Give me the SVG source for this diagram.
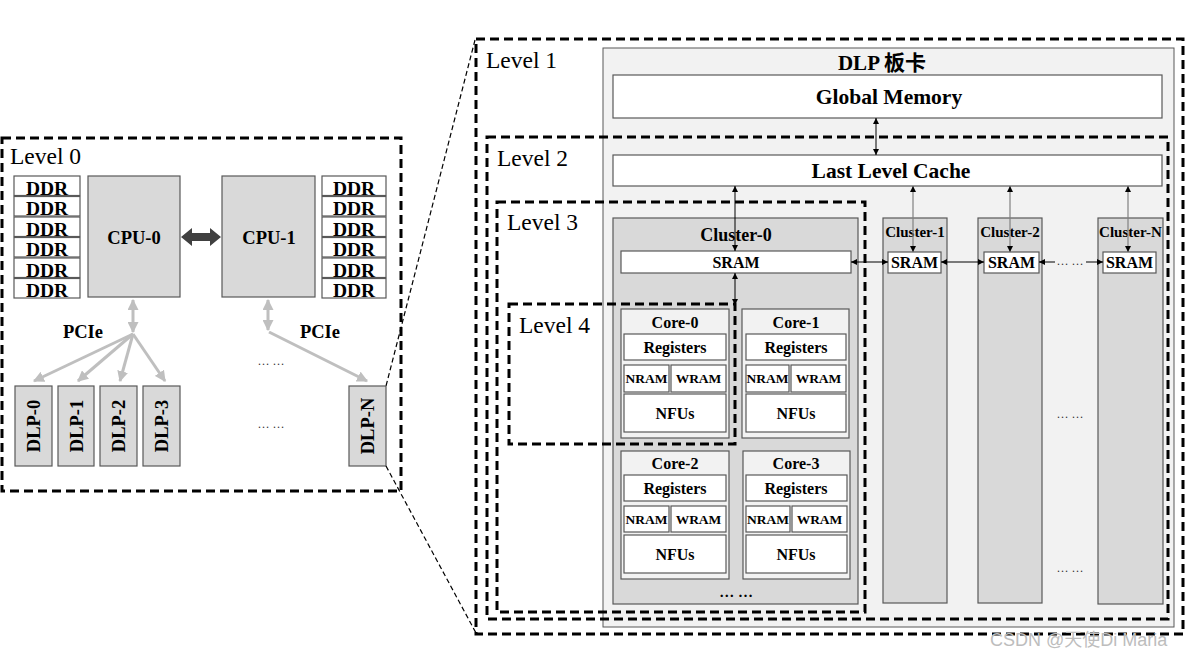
<svg xmlns="http://www.w3.org/2000/svg" width="1188" height="660" viewBox="0 0 1188 660">
<style>
.lvl{fill:none;stroke:#000;stroke-width:3;stroke-dasharray:9 5}
.box{stroke:#595959;stroke-width:1.2}
.w{fill:#fff}
.g{fill:#d9d9d9}
.lg{fill:#f2f2f2}
.t{font-family:"Liberation Serif","Noto Sans CJK SC",serif;font-weight:bold;fill:#000;text-anchor:middle}
.lbl{font-family:"Liberation Serif",serif;font-size:23.5px;fill:#000}
.dots{font-family:"Liberation Serif",serif;font-size:12px;fill:#333;text-anchor:middle}
.ln{stroke:#000;stroke-width:1;fill:none}
.lngr{stroke:#808080;stroke-width:1.2;fill:none}
.pc{stroke:#bfbfbf;stroke-width:3;fill:none}
.proj{stroke:#000;stroke-width:1.2;stroke-dasharray:5 3;fill:none}
</style>
<defs>
<marker id="ah" viewBox="0 0 10 10" refX="10" refY="5" markerWidth="7" markerHeight="6" markerUnits="userSpaceOnUse" orient="auto-start-reverse"><path d="M0,0 L10,5 L0,10z" fill="#000"/></marker>
<marker id="ahg" viewBox="0 0 10 10" refX="9" refY="5" markerWidth="11" markerHeight="11" markerUnits="userSpaceOnUse" orient="auto-start-reverse"><path d="M0,0 L10,5 L0,10z" fill="#bfbfbf"/></marker>
</defs>
<rect width="1188" height="660" fill="#fff"/>

<!-- Level 0 content -->
<g id="ddr-left">
<rect class="box w" x="14" y="176" width="66" height="19.5"/><text class="t" font-size="19.5" x="47" y="194.5">DDR</text>
<rect class="box w" x="14" y="196.5" width="66" height="19.5"/><text class="t" font-size="19.5" x="47" y="215">DDR</text>
<rect class="box w" x="14" y="217" width="66" height="19.5"/><text class="t" font-size="19.5" x="47" y="235.5">DDR</text>
<rect class="box w" x="14" y="237.5" width="66" height="19.5"/><text class="t" font-size="19.5" x="47" y="256">DDR</text>
<rect class="box w" x="14" y="258" width="66" height="19.5"/><text class="t" font-size="19.5" x="47" y="276.5">DDR</text>
<rect class="box w" x="14" y="278.5" width="66" height="19.5"/><text class="t" font-size="19.5" x="47" y="297">DDR</text>
</g>
<g id="ddr-right">
<rect class="box w" x="322" y="176" width="64" height="19.5"/><text class="t" font-size="19.5" x="354" y="194.5">DDR</text>
<rect class="box w" x="322" y="196.5" width="64" height="19.5"/><text class="t" font-size="19.5" x="354" y="215">DDR</text>
<rect class="box w" x="322" y="217" width="64" height="19.5"/><text class="t" font-size="19.5" x="354" y="235.5">DDR</text>
<rect class="box w" x="322" y="237.5" width="64" height="19.5"/><text class="t" font-size="19.5" x="354" y="256">DDR</text>
<rect class="box w" x="322" y="258" width="64" height="19.5"/><text class="t" font-size="19.5" x="354" y="276.5">DDR</text>
<rect class="box w" x="322" y="278.5" width="64" height="19.5"/><text class="t" font-size="19.5" x="354" y="297">DDR</text>
</g>
<g id="cpu0"><rect class="box g" x="88" y="176" width="92" height="121"/><text class="t" font-size="18.5" x="134" y="244">CPU-0</text></g>
<g id="cpu1"><rect class="box g" x="222" y="176" width="93" height="121"/><text class="t" font-size="18.5" x="269" y="244">CPU-1</text></g>
<g id="dlp0"><rect class="box g" x="15" y="386" width="37" height="80"/><text class="t" font-size="18.5" transform="translate(40,426) rotate(-90)">DLP-0</text></g>
<g id="dlp1"><rect class="box g" x="58" y="386" width="36" height="80"/><text class="t" font-size="18.5" transform="translate(82.5,426) rotate(-90)">DLP-1</text></g>
<g id="dlp2"><rect class="box g" x="100" y="386" width="37" height="80"/><text class="t" font-size="18.5" transform="translate(125,426) rotate(-90)">DLP-2</text></g>
<g id="dlp3"><rect class="box g" x="143" y="386" width="37" height="80"/><text class="t" font-size="18.5" transform="translate(168,426) rotate(-90)">DLP-3</text></g>
<g id="dlpn"><rect class="box g" x="349" y="386" width="37" height="80"/><text class="t" font-size="18.5" transform="translate(374,426) rotate(-90)">DLP-N</text></g>
<g id="level0-texts">
<text class="t" font-size="18.5" x="83" y="338">PCIe</text>
<text class="t" font-size="18.5" x="320" y="338">PCIe</text>
<text class="dots" x="271" y="365">… …</text>
<text class="dots" x="271" y="428">… …</text>
</g>

<!-- DLP board -->
<g id="dlp-board">
<rect x="603" y="48" width="571" height="579" fill="#f2f2f2" stroke="#595959" stroke-width="1"/>
<text class="t" font-size="21" x="882" y="70">DLP 板卡</text>
</g>
<g id="global-memory"><rect class="box w" x="613" y="75" width="549" height="43"/><text class="t" font-size="21.5" x="889" y="104">Global Memory</text></g>
<g id="llc"><rect class="box w" x="613" y="155" width="549" height="31"/><text class="t" font-size="21.5" x="891" y="178">Last Level Cache</text></g>

<g id="cluster0">
<rect class="box g" x="613" y="218" width="245" height="386"/>
<text class="t" font-size="18" x="736" y="241">Cluster-0</text>
<rect class="box w" x="621" y="251" width="230" height="22"/>
<text class="t" font-size="16" x="736" y="267.5">SRAM</text>
<text class="t" font-size="15" x="736" y="597">… …</text>
</g>
<g id="core0">
<rect class="box lg" x="621" y="309" width="108" height="129"/>
<text class="t" font-size="16" x="675" y="328">Core-0</text>
<rect class="box w" x="624" y="334" width="102" height="26"/><text class="t" font-size="16" x="675" y="352.5">Registers</text>
<rect class="box w" x="624" y="365" width="45" height="27"/><text class="t" font-size="13.5" x="646.5" y="383">NRAM</text>
<rect class="box w" x="671" y="365" width="55" height="27"/><text class="t" font-size="13.5" x="698.5" y="383">WRAM</text>
<rect class="box w" x="624" y="394" width="102" height="38"/><text class="t" font-size="16" x="675" y="418.5">NFUs</text>
</g>
<g id="core1">
<rect class="box lg" x="742" y="309" width="107" height="129"/>
<text class="t" font-size="16" x="796" y="328">Core-1</text>
<rect class="box w" x="746" y="334" width="100" height="26"/><text class="t" font-size="16" x="796" y="352.5">Registers</text>
<rect class="box w" x="746" y="365" width="43" height="27"/><text class="t" font-size="13.5" x="767.5" y="383">NRAM</text>
<rect class="box w" x="791" y="365" width="55" height="27"/><text class="t" font-size="13.5" x="818.5" y="383">WRAM</text>
<rect class="box w" x="746" y="394" width="100" height="38"/><text class="t" font-size="16" x="796" y="418.5">NFUs</text>
</g>
<g id="core2">
<rect class="box lg" x="621" y="451" width="108" height="128"/>
<text class="t" font-size="16" x="675" y="469">Core-2</text>
<rect class="box w" x="624" y="475" width="102" height="26"/><text class="t" font-size="16" x="675" y="493.5">Registers</text>
<rect class="box w" x="624" y="506" width="45" height="26"/><text class="t" font-size="13.5" x="646.5" y="523.5">NRAM</text>
<rect class="box w" x="671" y="506" width="55" height="26"/><text class="t" font-size="13.5" x="698.5" y="523.5">WRAM</text>
<rect class="box w" x="624" y="535" width="102" height="38"/><text class="t" font-size="16" x="675" y="559.5">NFUs</text>
</g>
<g id="core3">
<rect class="box lg" x="743" y="451" width="107" height="128"/>
<text class="t" font-size="16" x="796" y="469">Core-3</text>
<rect class="box w" x="746" y="475" width="101" height="26"/><text class="t" font-size="16" x="796" y="493.5">Registers</text>
<rect class="box w" x="746" y="506" width="44" height="26"/><text class="t" font-size="13.5" x="768" y="523.5">NRAM</text>
<rect class="box w" x="792" y="506" width="55" height="26"/><text class="t" font-size="13.5" x="819.5" y="523.5">WRAM</text>
<rect class="box w" x="746" y="535" width="101" height="38"/><text class="t" font-size="16" x="796" y="559.5">NFUs</text>
</g>
<g id="cluster1">
<rect class="box g" x="883" y="218" width="64" height="385"/>
<text class="t" font-size="15" x="915" y="237">Cluster-1</text>
<rect class="box w" x="888" y="252" width="53" height="21"/><text class="t" font-size="16" x="914.5" y="268">SRAM</text>
</g>
<g id="cluster2">
<rect class="box g" x="978" y="218" width="64" height="385"/>
<text class="t" font-size="15" x="1010" y="237">Cluster-2</text>
<rect class="box w" x="984" y="252" width="55" height="21"/><text class="t" font-size="16" x="1011.5" y="268">SRAM</text>
</g>
<g id="clusterN">
<rect class="box g" x="1098" y="218" width="65" height="386"/>
<text class="t" font-size="15" x="1130.5" y="237">Cluster-N</text>
<rect class="box w" x="1103" y="252" width="53" height="21"/><text class="t" font-size="16" x="1129.5" y="268">SRAM</text>
</g>
<g id="board-texts">
<text class="dots" x="1070" y="265">… …</text>
<text class="dots" x="1070" y="418">… …</text>
<text class="dots" x="1070" y="572">… …</text>
</g>

<g id="connectors">
<polygon points="181,237 192,228 192,233 210,233 210,228 221,237 210,246 210,241 192,241 192,246" fill="#404040"/>
<line class="pc" x1="133" y1="300" x2="133" y2="332" marker-start="url(#ahg)" marker-end="url(#ahg)"/>
<line class="pc" x1="133" y1="334" x2="34" y2="381" marker-end="url(#ahg)"/>
<line class="pc" x1="133" y1="334" x2="78" y2="381" marker-end="url(#ahg)"/>
<line class="pc" x1="133" y1="334" x2="120" y2="381" marker-end="url(#ahg)"/>
<line class="pc" x1="133" y1="334" x2="165" y2="381" marker-end="url(#ahg)"/>
<line class="pc" x1="268" y1="300" x2="268" y2="330" marker-start="url(#ahg)" marker-end="url(#ahg)"/>
<line class="pc" x1="269" y1="332" x2="367" y2="381" marker-end="url(#ahg)"/>
<line class="ln" x1="876" y1="118" x2="876" y2="155" marker-start="url(#ah)" marker-end="url(#ah)"/>
<line class="ln" x1="735" y1="186" x2="735" y2="251" marker-start="url(#ah)" marker-end="url(#ah)"/>
<line class="ln" x1="735" y1="273" x2="735" y2="305" marker-start="url(#ah)" marker-end="url(#ah)"/>
<line class="lngr" x1="913" y1="186" x2="913" y2="252" marker-start="url(#ah)" marker-end="url(#ah)"/>
<line class="lngr" x1="1010" y1="186" x2="1010" y2="252" marker-start="url(#ah)" marker-end="url(#ah)"/>
<line class="lngr" x1="1128" y1="186" x2="1128" y2="252" marker-start="url(#ah)" marker-end="url(#ah)"/>
<line class="ln" x1="851" y1="262" x2="888" y2="262" marker-start="url(#ah)" marker-end="url(#ah)"/>
<line class="ln" x1="941" y1="262" x2="984" y2="262" marker-start="url(#ah)" marker-end="url(#ah)"/>
<line class="ln" x1="1039" y1="262" x2="1055" y2="262" marker-start="url(#ah)"/>
<line class="ln" x1="1086" y1="262" x2="1103" y2="262" marker-end="url(#ah)"/>
<line class="proj" x1="475" y1="40" x2="386" y2="386"/>
<line class="proj" x1="386" y1="466" x2="476" y2="633"/>
</g>

<g id="levels">
<rect class="lvl" x="2" y="138" width="399" height="353"/>
<text class="lbl" x="10" y="164">Level 0</text>
<rect class="lvl" x="476" y="39" width="707" height="595"/>
<text class="lbl" x="486" y="68">Level 1</text>
<rect class="lvl" x="487" y="137" width="681" height="482"/>
<text class="lbl" x="497" y="166">Level 2</text>
<rect class="lvl" x="497" y="202" width="368" height="410"/>
<text class="lbl" x="507" y="230">Level 3</text>
<rect class="lvl" x="509" y="304" width="226" height="140"/>
<text class="lbl" x="519" y="333">Level 4</text>
</g>
<text x="990" y="646" font-family="'Liberation Sans','Noto Sans CJK SC',sans-serif" font-size="18" fill="#bdbdbd">CSDN @天使Di Maria</text>
</svg>
